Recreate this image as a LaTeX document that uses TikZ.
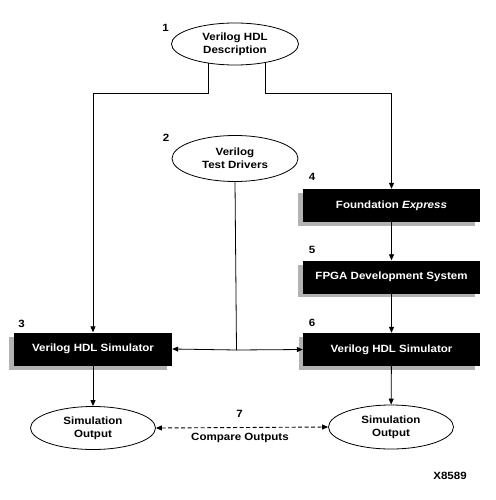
\documentclass[tikz,border=0pt]{standalone}
\usepackage{fontspec}
\setmainfont{Liberation Sans}[FakeStretch=1.1]
\usetikzlibrary{shapes.geometric,arrows.meta}
\begin{document}
\begin{tikzpicture}[x=1pt,y=-1pt,
  lbl/.style={font=\fontsize{10.5}{13}\selectfont\bfseries},
  oval/.style={ellipse,draw,line width=0.8pt,fill=white,inner sep=0pt,align=center,
    font=\fontsize{10.5}{13}\selectfont\bfseries},
  blk/.style={rectangle,fill=black,text=white,inner sep=0pt,minimum height=33pt,
    font=\fontsize{10.5}{13}\selectfont\bfseries},
  shd/.style={fill=gray!60},
  arr/.style={line width=0.8pt,-{Triangle[length=6pt,width=5pt]}},
  ln/.style={line width=0.8pt}]
\useasboundingbox (0,0) rectangle (495,500);
% shadows
\fill[shd] (9,337) rectangle (167,370);
\fill[shd] (298,193) rectangle (475,226);
\fill[shd] (298,265) rectangle (475,297);
\fill[shd] (299,337) rectangle (475,370);
% nodes
\node[oval,minimum width=127pt,minimum height=42pt] (e1) at (235,44) {Verilog HDL\\Description};
\node[oval,minimum width=126pt,minimum height=46pt] (e2) at (235,158.5) {Verilog\\Test Drivers};
\node[blk,minimum width=158pt] (b3) at (93,349) {Verilog HDL Simulator};
\node[blk,minimum width=177pt] (b4) at (391.5,205.5) {Foundation \textit{Express}};
\node[blk,minimum width=177pt] (b5) at (391.5,277) {FPGA Development System};
\node[blk,minimum width=177pt] (b6) at (391.5,349.5) {Verilog HDL Simulator};
\node[oval,minimum width=125pt,minimum height=43pt] (s1) at (93,428) {Simulation\\Output};
\node[oval,minimum width=125pt,minimum height=44pt] (s2) at (391,427) {Simulation\\Output};
% labels
\node[lbl] (n1) at (165.5,27.5) {1};
\node[lbl] (n2) at (166,137.5) {2};
\node[lbl] (n3) at (21.5,323.5) {3};
\node[lbl] (n4) at (312,177) {4};
\node[lbl] (n5) at (312,249.5) {5};
\node[lbl] (n6) at (312,322.5) {6};
\node[lbl] (n7) at (239.5,414) {7};
\node[lbl] (cmp) at (240,438) {Compare Outputs};
\node[lbl] (xid) at (450,476) {X8589};
% junction coordinates
\coordinate (j1) at (93,93);
\coordinate (j2) at (391.5,93);
\coordinate (j3) at (236.5,350);
% connectors
\draw[arr] (e1.216.4) |- (j1) -- (b3.north);
\draw[arr] (e1.328.3) |- (j2) -- (b4.north);
\draw[ln] (e2.south) -- (j3);
\draw[arr] (j3) -- (b3.east);
\draw[arr] (j3) -- (b6.west);
\draw[arr] (b4) -- (b5);
\draw[arr] (b5) -- (b6);
\draw[arr] (b3) -- (s1);
\draw[arr] (b6) -- (s2);
\draw[line width=0.9pt,dash pattern=on 4pt off 2.5pt,
  {Triangle[length=6pt,width=5pt]}-{Triangle[length=6pt,width=5pt]}] (s1.east) -- (s2.west);
\end{tikzpicture}
\end{document}
